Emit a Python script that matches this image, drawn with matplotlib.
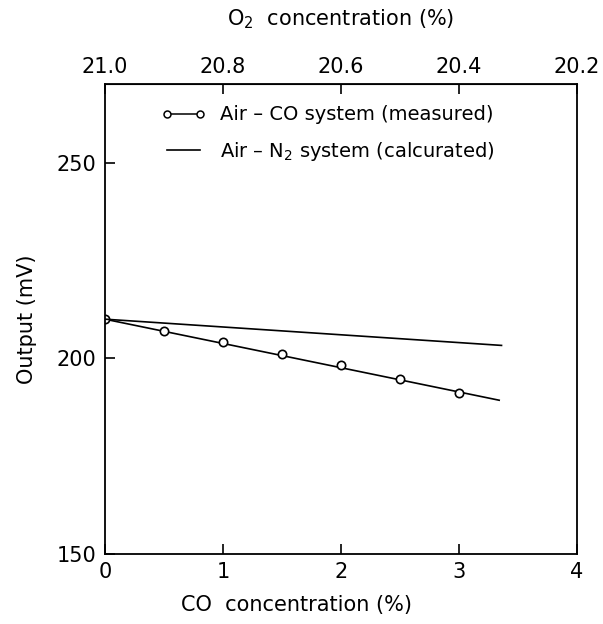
import matplotlib
matplotlib.use('Agg')
import matplotlib.pyplot as plt

# Данные
co_meas = [0, 0.5, 1.0, 1.5, 2.0, 2.5, 3.0]           # CO, %
out_meas = [210.0, 207.0, 204.1, 201.0, 198.2, 194.6, 191.1]  # мВ
co_fit = [0, 3.34]
out_fit = [210.0, 189.3]
co_calc = [0, 3.36]
out_calc = [210.0, 203.3]

x_ticks = [0, 1, 2, 3, 4]
y_ticks = [150, 200, 250]
o2_ticks = [21.0, 20.8, 20.6, 20.4, 20.2]

plt.rcParams['font.family'] = 'DejaVu Sans'

fig = plt.figure(figsize=(6.03, 6.24), dpi=100)
ax = fig.add_axes([0.174, 0.112, 0.783, 0.753])

# Измеренные точки и прямая
ax.plot(co_fit, out_fit, color='black', lw=1.2)
ax.plot(co_meas, out_meas, 'o', color='black', mfc='white', ms=6, mew=1.2)
# Расчётная прямая
ax.plot(co_calc, out_calc, color='black', lw=1.2)

# Элементы легенды
h_meas, = ax.plot([], [], '-o', color='black', mfc='white', ms=5, mew=1.1, lw=1.1)
h_calc, = ax.plot([], [], '-', color='black', lw=1.2)
ax.legend([h_meas, h_calc],
          ['Air – CO system (measured)', 'Air – N$_2$ system (calcurated)'],
          loc='upper left', bbox_to_anchor=(0.12, 0.955), frameon=False,
          numpoints=2, handlelength=2.3, handletextpad=0.7, labelspacing=0.8,
          borderpad=0, borderaxespad=0, fontsize=14)

ax.set_xlim(0, 4)
ax.set_ylim(150, 270)
ax.set_xticks(x_ticks)
ax.set_yticks(y_ticks)
ax.tick_params(direction='in', length=7, width=1.2, labelsize=15, pad=6,
               top=False, right=False)
for s in ax.spines.values():
    s.set_linewidth(1.3)

ax.set_xlabel('CO  concentration (%)', fontsize=15, labelpad=9, x=0.405)
ax.set_ylabel('Output (mV)', fontsize=15, labelpad=14)

# Верхняя ось: концентрация O2
top = ax.secondary_xaxis('top', functions=(lambda c: 21 - 0.2 * c,
                                           lambda o: (21 - o) / 0.2))
top.set_xticks(o2_ticks)
top.set_xticklabels(['%.1f' % v for v in o2_ticks])
top.tick_params(direction='in', length=7, width=1.2, labelsize=15, pad=5)
top.set_xlabel('O$_2$  concentration (%)', fontsize=15, labelpad=23)

fig.savefig('out.png', dpi=100)
